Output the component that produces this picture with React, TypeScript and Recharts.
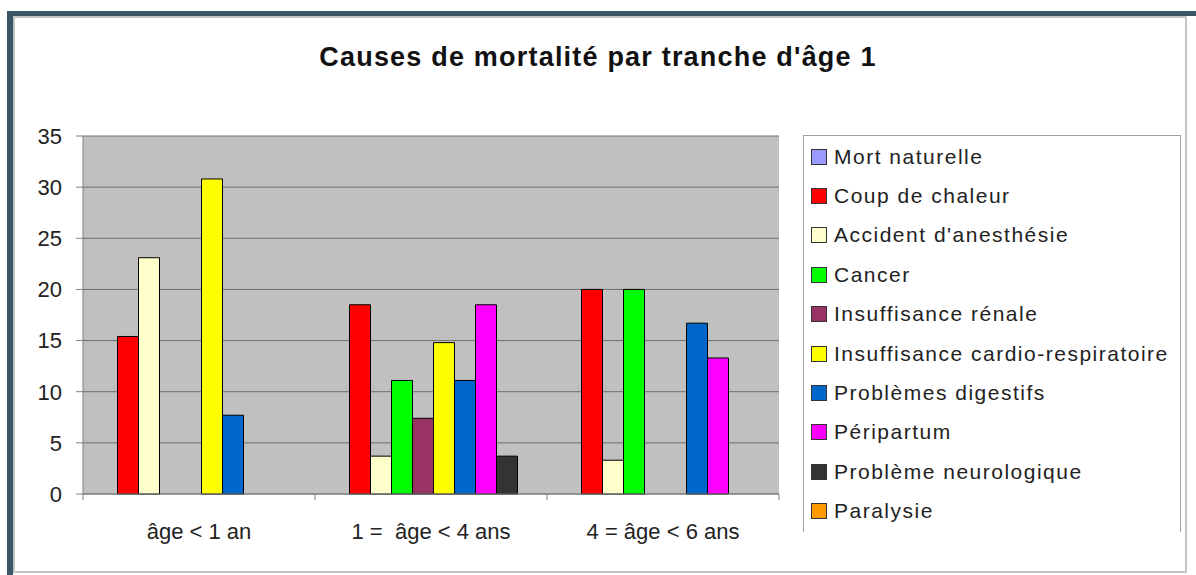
import React from "react";
import { BarChart, Bar, XAxis, YAxis, CartesianGrid, Legend } from "recharts";

// age brackets (x categories)
const AGES = ["âge < 1 an", "1 =  âge < 4 ans", "4 = âge < 6 ans"];

// causes, in legend order
const CAUSES = [
  "Mort naturelle",
  "Coup de chaleur",
  "Accident d'anesthésie",
  "Cancer",
  "Insuffisance rénale",
  "Insuffisance cardio-respiratoire",
  "Problèmes digestifs",
  "Péripartum",
  "Problème neurologique",
  "Paralysie",
];

const COLORS = [
  "#9999ff", "#ff0000", "#ffffcc", "#00ff00", "#993366",
  "#ffff00", "#0066cc", "#ff00ff", "#333333", "#ff9900",
];

// values per cause, one per age bracket (null = no bar)
const MORT_NATURELLE = [null, null, null];
const COUP_DE_CHALEUR = [15.4, 18.5, 20];
const ACCIDENT_ANESTHESIE = [23.1, 3.7, 3.3];
const CANCER = [null, 11.1, 20];
const INSUF_RENALE = [null, 7.4, null];
const INSUF_CARDIO = [30.8, 14.8, null];
const DIGESTIFS = [7.7, 11.1, 16.7];
const PERIPARTUM = [null, 18.5, 13.3];
const NEUROLOGIQUE = [null, 3.7, null];
const PARALYSIE = [null, null, null];

const SERIES = [
  MORT_NATURELLE, COUP_DE_CHALEUR, ACCIDENT_ANESTHESIE, CANCER, INSUF_RENALE,
  INSUF_CARDIO, DIGESTIFS, PERIPARTUM, NEUROLOGIQUE, PARALYSIE,
];

const Y_TICKS = [0, 5, 10, 15, 20, 25, 30, 35];

const data = AGES.map((age, i) => {
  const row: Record<string, any> = { age };
  CAUSES.forEach((c, s) => { row["s" + s] = SERIES[s][i]; });
  return row;
});

const FONT = "'Liberation Sans', Arial, sans-serif";

function AgeTick(props: any) {
  const { x, y, payload, index, visibleTicksCount, width } = props;
  const half = (width || 696) / (visibleTicksCount || 3) / 2;
  const axisY = y - 8; // default tickSize 6 + tickMargin 2
  return (
    <g>
      <line x1={x - half} x2={x - half} y1={axisY} y2={axisY + 6} stroke="#808080" />
      {index === visibleTicksCount - 1 && (
        <line x1={x + half} x2={x + half} y1={axisY} y2={axisY + 6} stroke="#808080" />
      )}
      <text x={x} y={axisY + 45} textAnchor="middle" fill="#222" fontSize={22}
        style={{ whiteSpace: "pre" }} fontFamily={FONT}>
        {payload.value}
      </text>
    </g>
  );
}

function LegendBox(props: any) {
  // keep the original series order
  const items = [...(props.payload || [])].sort(
    (a: any, b: any) => CAUSES.indexOf(a.value) - CAUSES.indexOf(b.value)
  );
  return (
    <div style={{
      width: 378, height: 397, boxSizing: "border-box", paddingTop: 1,
      borderTop: "1px solid #a0a0a0", borderLeft: "1px solid #a0a0a0", borderRight: "1px solid #a0a0a0",
      fontFamily: FONT, fontSize: 21, color: "#222", letterSpacing: 1.5,
    }}>
      {items.map((it: any) => (
        <div key={it.value} style={{ height: 39.4, display: "flex", alignItems: "center" }}>
          <span style={{
            display: "inline-block", width: 14, height: 14, marginLeft: 7, marginRight: 7,
            background: it.color, border: "1px solid #333",
          }} />
          <span style={{ whiteSpace: "nowrap" }}>{it.value}</span>
        </div>
      ))}
    </div>
  );
}

export default function App() {
  return (
    <div style={{ position: "absolute", left: 0, top: 0, width: 1196, height: 575, background: "#fff", overflow: "hidden" }}>
      {/* frame */}
      <div style={{ position: "absolute", left: 7, top: 11, right: 0, height: 5, background: "#3b5567" }} />
      <div style={{ position: "absolute", left: 7, top: 11, width: 6, bottom: 0, background: "#3b5567" }} />
      <div style={{
        position: "absolute", left: 13, top: 16, width: 1174, height: 557, boxSizing: "border-box",
        border: "2px solid #c4c4c4",
      }} />

      <div style={{
        position: "absolute", left: 0, width: 1196, top: 44, textAlign: "center",
        fontFamily: FONT, fontWeight: "bold", fontSize: 27, lineHeight: "27px",
        letterSpacing: 1.2, color: "#111",
      }}>
        Causes de mortalité par tranche d'âge 1
      </div>

      <div style={{ position: "absolute", left: 0, top: 0 }}>
        <BarChart
          width={1196}
          height={575}
          data={data}
          margin={{ top: 136, right: 417, bottom: 0, left: 0 }}
          barGap={0}
          barCategoryGap={13.5}
          style={{ fontFamily: FONT }}
        >
          <CartesianGrid vertical={false} fill="#c0c0c0" stroke="#6e6e6e" />
          <XAxis dataKey="age" height={81} tickLine={false} axisLine={{ stroke: "#808080" }}
            tick={<AgeTick />} interval={0} />
          <YAxis width={83} domain={[0, 35]} ticks={Y_TICKS} interval={0}
            tickSize={7} tickMargin={14} axisLine={{ stroke: "#808080" }} tickLine={{ stroke: "#808080" }}
            tick={{ fill: "#222", fontSize: 22, fontFamily: FONT }} />
          <Legend layout="vertical" align="center" verticalAlign="middle" width={378} height={397}
            wrapperStyle={{ left: 803, top: 135 }} content={<LegendBox />} />
          {CAUSES.map((c, s) => (
            <Bar key={c} dataKey={"s" + s} name={c} fill={COLORS[s]} stroke="#000" strokeWidth={1}
              isAnimationActive={false} />
          ))}
        </BarChart>
      </div>
    </div>
  );
}
